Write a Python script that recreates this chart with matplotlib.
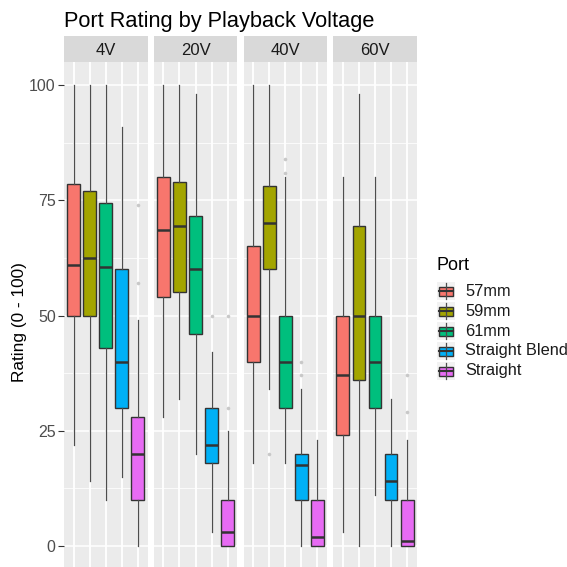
import matplotlib.pyplot as plt
from matplotlib.patches import Rectangle
from matplotlib.lines import Line2D

plt.rcParams['font.family'] = ['Liberation Sans', 'DejaVu Sans']

voltages = ['4V', '20V', '40V', '60V']
ports = ['57mm', '59mm', '61mm', 'Straight Blend', 'Straight']
colors = ['#F8766D', '#A3A500', '#00BF7D', '#00B0F6', '#E76BF3']

# box statistics, one row per voltage, one column per port
whislo = [[22, 14, 10, 15, 0],
          [28, 32, 20, 3, 0],
          [18, 34, 18, 0, 0],
          [3, 0, 11, 0, 0]]
q1 = [[50, 50, 43, 30, 10],
      [54, 55, 46, 18, 0],
      [40, 60, 30, 10, 0],
      [24, 36, 30, 10, 0]]
med = [[61, 62.5, 60.5, 40, 20],
       [68.5, 69.5, 60, 22, 3],
       [50, 70, 40, 17.5, 2],
       [37, 50, 40, 14, 1]]
q3 = [[78.5, 77, 74.5, 60, 28],
      [80, 79, 71.5, 30, 10],
      [65, 78, 50, 20, 10],
      [50, 69.5, 50, 20, 10]]
whishi = [[100, 100, 100, 91, 49],
          [100, 100, 98, 42, 25],
          [100, 100, 80, 34, 23],
          [80, 98, 80, 32, 23]]
outliers = [[[], [], [], [], [74, 57]],
            [[], [], [], [50], [50, 30]],
            [[], [20], [84, 81], [40, 37], []],
            [[], [], [], [], [37, 29]]]

fig = plt.figure(figsize=(5.67, 5.67), dpi=100)
W, H = 567, 567

panel_left = 64
panel_w = 83.5
panel_step = 89.75
panel_top = 62
strip_h = 26

for i, v in enumerate(voltages):
    x0 = (panel_left + i * panel_step) / W
    ax = fig.add_axes([x0, 0, panel_w / W, 1 - panel_top / H])
    ax.set_facecolor('#EBEBEB')
    for s in ax.spines.values():
        s.set_visible(False)
    ax.set_xlim(0.4, 5.6)
    ax.set_ylim(-4.55, 105)
    ax.set_yticks([0, 25, 50, 75, 100])
    ax.set_yticks([12.5, 37.5, 62.5, 87.5], minor=True)
    ax.set_xticks(range(1, 6))
    ax.grid(which='major', color='white', lw=1.1)
    ax.grid(which='minor', axis='y', color='white', lw=0.55)
    ax.set_axisbelow(True)
    ax.tick_params(axis='x', length=0, labelbottom=False)
    ax.tick_params(axis='y', which='minor', length=0)
    if i == 0:
        ax.tick_params(axis='y', which='major', length=4, color='#333333',
                       labelsize=11.5, labelcolor='#4D4D4D', pad=2)
    else:
        ax.tick_params(axis='y', which='major', length=0, labelleft=False)

    stats = []
    for j in range(len(ports)):
        stats.append(dict(whislo=whislo[i][j], q1=q1[i][j], med=med[i][j],
                          q3=q3[i][j], whishi=whishi[i][j],
                          fliers=outliers[i][j]))
    bp = ax.bxp(stats, positions=range(1, 6), widths=0.8, patch_artist=True,
                showcaps=False,
                boxprops=dict(edgecolor='#333333', lw=1.0),
                whiskerprops=dict(color='#4D4D4D', lw=0.9),
                medianprops=dict(color='#333333', lw=1.8),
                flierprops=dict(marker='o', markersize=2.6, markerfacecolor='#C8C8C8',
                                markeredgecolor='none'))
    for patch, c in zip(bp['boxes'], colors):
        patch.set_facecolor(c)

    # facet strip
    sax = fig.add_axes([x0, 1 - (panel_top) / H, panel_w / W, strip_h / H])
    sax.set_facecolor('#D9D9D9')
    sax.set_xticks([])
    sax.set_yticks([])
    for s in sax.spines.values():
        s.set_visible(False)
    sax.text(0.5, 0.45, v, ha='center', va='center', fontsize=12,
             color='#1A1A1A', transform=sax.transAxes)

fig.text(64 / W, 1 - 27 / H, 'Port Rating by Playback Voltage', fontsize=15.7,
         ha='left', va='baseline')
fig.text(20 / W, 1 - 322 / H, 'Rating (0 - 100)', rotation=90, fontsize=12.4,
         ha='center', va='center')

# legend drawn by hand in a ggplot-like style
fig.text(437 / W, 1 - 270 / H, 'Port', fontsize=13, ha='left', va='baseline')
lax = fig.add_axes([0, 0, 1, 1], facecolor='none')
lax.set_xlim(0, W)
lax.set_ylim(H, 0)
lax.axis('off')
key_w, key_h, row = 17.5, 17.5, 20
for k, (p, c) in enumerate(zip(ports, colors)):
    cy = 291 + k * row
    kx = 437
    lax.add_patch(Rectangle((kx, cy - key_h / 2), key_w, key_h,
                            facecolor='#F2F2F2', edgecolor='none'))
    lax.add_line(Line2D([kx + key_w / 2] * 2, [cy - key_h / 2 + 1, cy + key_h / 2 - 1],
                        color='#4D4D4D', lw=0.9))
    lax.add_patch(Rectangle((kx + 2, cy - 4.5), key_w - 4, 9,
                            facecolor=c, edgecolor='#333333', lw=1.0))
    lax.add_line(Line2D([kx + 2, kx + key_w - 2], [cy, cy], color='#333333', lw=1.5))
    lax.text(465, cy, p, fontsize=11.8, ha='left', va='center', color='#1A1A1A')

fig.savefig('out.png', dpi=100)
